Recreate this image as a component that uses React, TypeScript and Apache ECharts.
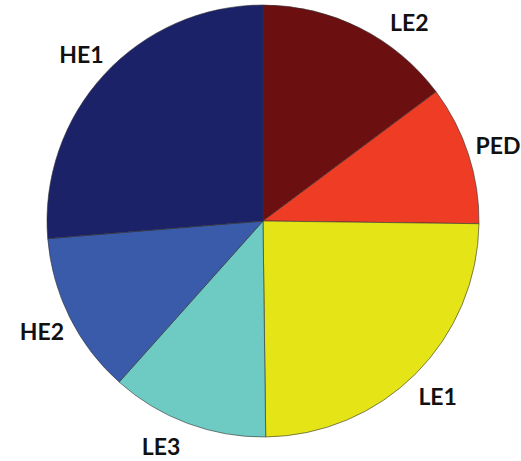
import React, { useEffect, useRef } from "react";
import * as echarts from "echarts";

// Share of each group, in percent, clockwise from 12 o'clock
const categories = ["LE2", "PED", "LE1", "LE3", "HE2", "HE1"];
const shares = [14.8, 10.4, 24.6, 11.8, 12.1, 26.3];
const colors = ["#6C0F10", "#EF3D25", "#E4E416", "#6DCBC3", "#3A5BA9", "#1B2268"];

const CX = 263;
const CY = 221;
const R = 216;
const LABEL_R = 247;
const LABEL_Y_MIN = 22;
const LABEL_Y_MAX = 446;

export default function App() {
  const ref = useRef<HTMLDivElement>(null);

  useEffect(() => {
    document.body.style.margin = "0";
    const chart = echarts.init(ref.current!, null, { renderer: "svg" });
    const total = shares.reduce((a, b) => a + b, 0);

    // Labels sit on a ring around the pie at each slice's mid angle,
    // slid along that ring when they would run past the top or bottom.
    const placeLabel = (p: any) => {
      const i = p.dataIndex;
      const before = shares.slice(0, i).reduce((a, b) => a + b, 0);
      const ang = ((before + shares[i] / 2) / total) * Math.PI * 2;
      let x = CX + LABEL_R * Math.sin(ang);
      let y = CY - LABEL_R * Math.cos(ang);
      if (y < LABEL_Y_MIN || y > LABEL_Y_MAX) {
        y = Math.min(Math.max(y, LABEL_Y_MIN), LABEL_Y_MAX);
        const dy = y - CY;
        x = CX + Math.sign(Math.sin(ang)) * Math.sqrt(LABEL_R * LABEL_R - dy * dy);
      }
      return { x, y, align: "center", verticalAlign: "middle" };
    };

    chart.setOption({
      animation: false,
      backgroundColor: "#ffffff",
      series: [
        {
          type: "pie",
          center: [CX, CY],
          radius: [0, R],
          startAngle: 90,
          clockwise: true,
          avoidLabelOverlap: false,
          data: categories.map((name, i) => ({
            name,
            value: shares[i],
            itemStyle: { color: colors[i] },
          })),
          itemStyle: { borderColor: "#333333", borderWidth: 0.6 },
          label: {
            show: true,
            position: "outside",
            formatter: "{b}",
            fontFamily: "Lato",
            fontWeight: "bold",
            fontSize: 23,
            color: "#111111",
          },
          labelLine: { show: false },
          labelLayout: placeLabel,
          emphasis: { disabled: true },
        },
      ],
    });
    return () => chart.dispose();
  }, []);

  return <div ref={ref} style={{ width: 521, height: 461 }} />;
}
